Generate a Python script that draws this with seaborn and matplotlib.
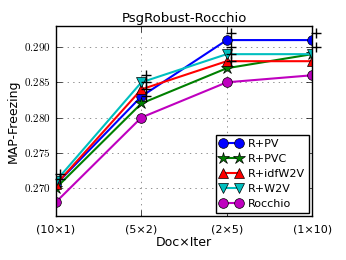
import numpy as np
import pandas as pd
import matplotlib
matplotlib.use("Agg")
import matplotlib.pyplot as plt
import seaborn as sns

# 데이터
doc_iter = ["(10×1)", "(5×2)", "(2×5)", "(1×10)"]
r_pv = [0.2705, 0.283, 0.291, 0.291]
r_pvc = [0.270, 0.282, 0.287, 0.289]
r_idfw2v = [0.2705, 0.284, 0.288, 0.288]
r_w2v = [0.271, 0.285, 0.289, 0.289]
rocchio = [0.268, 0.280, 0.285, 0.286]

# 유의성 표시(+) : (x 인덱스, 값)
sig_x = [0, 0, 1, 1, 1, 1, 2, 2, 2, 2, 3, 3]
sig_y = [0.272, 0.2713, 0.286, 0.285, 0.284, 0.283,
         0.292, 0.290, 0.289, 0.288, 0.292, 0.290]

series = {
    "R+PV": r_pv,
    "R+PVC": r_pvc,
    "R+idfW2V": r_idfw2v,
    "R+W2V": r_w2v,
    "Rocchio": rocchio,
}
styles = {
    "R+PV": ("b", "o"),
    "R+PVC": ("g", "*"),
    "R+idfW2V": ("r", "^"),
    "R+W2V": ("c", "v"),
    "Rocchio": ("m", "o"),
}

plt.style.use("classic")
plt.rcParams["mathtext.fontset"] = "cm"
plt.rcParams["font.family"] = ["DejaVu Sans"]

fig = plt.figure(figsize=(3.46, 2.6), dpi=100)
fig.patch.set_facecolor("white")
ax = fig.add_axes([0.162, 0.169, 0.740, 0.731])

x = np.arange(len(doc_iter))
for name, vals in series.items():
    color, marker = styles[name]
    df = pd.DataFrame({"x": x, "y": vals})
    ms = 9 if marker == "*" else 7
    sns.lineplot(data=df, x="x", y="y", ax=ax, color=color, marker=marker,
                 markersize=ms, markeredgecolor="black", markeredgewidth=0.5,
                 linewidth=1.5, label=name)

ax.plot(np.array(sig_x) + 0.05, sig_y, linestyle="none", marker="+",
        color="black", markersize=7, markeredgewidth=1.0, clip_on=False)

# 축 경계에서 마커 잘림 (원본과 동일)
for ln in ax.lines[:len(series)]:
    ln.set_clip_on(True)
    ln.set_clip_path(ax.patch)

ax.set_xlim(0, 3)
ax.set_ylim(0.266, 0.293)
ax.set_xticks(x)
ax.set_xticklabels(doc_iter, fontsize=8)
yt = [0.270, 0.275, 0.280, 0.285, 0.290]
ax.set_yticks(yt)
ax.set_yticklabels([f"${v:.3f}$" for v in yt], fontsize=8)
ax.tick_params(axis="x", pad=6)
ax.grid(True, color="gray", linestyle=":", linewidth=0.6)
ax.set_axisbelow(True)
ax.set_xlabel("Doc×Iter", fontsize=9, labelpad=1)
ax.set_ylabel("MAP-Freezing", fontsize=9, labelpad=3)
ax.set_title("PsgRobust-Rocchio", fontsize=9.5, pad=3)

leg = ax.legend(loc="lower right", fontsize=8, numpoints=2,
                handlelength=2.0, borderpad=0.35, labelspacing=0.45,
                handletextpad=0.5, borderaxespad=0.3)
leg.get_frame().set_edgecolor("black")

fig.savefig("out.png", dpi=100, facecolor="white")
